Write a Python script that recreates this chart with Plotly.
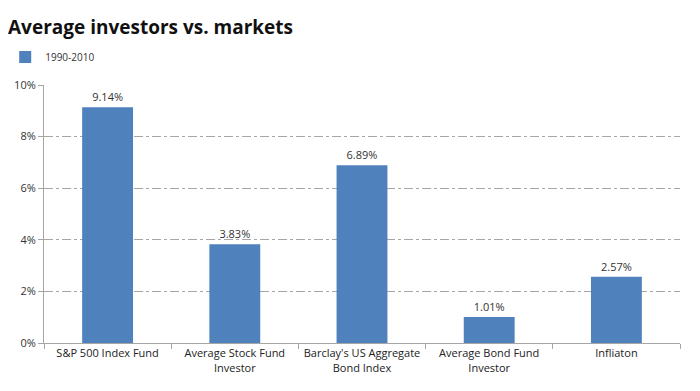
import plotly.graph_objects as go

categories = ["S&P 500 Index Fund", "Average Stock Fund<br>Investor", "Barclay's US Aggregate<br>Bond Index", "Average Bond Fund<br>Investor", "Infliaton"]
values = [9.14, 3.83, 6.89, 1.01, 2.57]
labels = ["9.14%", "3.83%", "6.89%", "1.01%", "2.57%"]
series_name = "1990-2010"
tick_vals = [0, 2, 4, 6, 8, 10]
tick_text = ["0%", "2%", "4%", "6%", "8%", "10%"]

fig = go.Figure()
fig.add_trace(go.Bar(
    x=categories, y=values, name=series_name,
    marker=dict(color="#4f81bd", line=dict(width=0)),
    text=labels, textposition="outside", cliponaxis=False,
    textfont=dict(size=11, color="#333333"),
    showlegend=True,
))

fig.update_layout(
    width=700, height=391,
    margin=dict(l=36, r=28, t=77, b=56, autoexpand=False),
    paper_bgcolor="white", plot_bgcolor="white",
    font=dict(family="Open Sans, Liberation Sans, sans-serif", size=11, color="#333333"),
    title=dict(text="<b>Average investors vs. markets</b>", x=0.0, xanchor="left", y=0.95, yanchor="middle",
               font=dict(size=19, color="#111111")),
    legend=dict(x=-0.061, xanchor="left", y=1.1085, yanchor="middle", orientation="h",
                font=dict(size=10, color="#333333"), itemwidth=30),
    bargap=0.6,
    xaxis=dict(showline=True, linecolor="#a6a6a6", linewidth=1, ticks="outside", tickson="boundaries",
               ticklen=5, tickcolor="#a6a6a6", tickfont=dict(size=11, color="#222222"), showgrid=False,
               automargin=False),
    yaxis=dict(range=[0, 10], tickvals=tick_vals, ticktext=tick_text, showline=True, linecolor="#a6a6a6",
               ticks="outside", ticklen=5, tickcolor="#a6a6a6", showgrid=True, gridcolor="#a6a6a6",
               griddash="dashdot", gridwidth=1, zeroline=False, tickfont=dict(size=11, color="#333333"),
               automargin=False),
)

fig.write_html("out.html")
